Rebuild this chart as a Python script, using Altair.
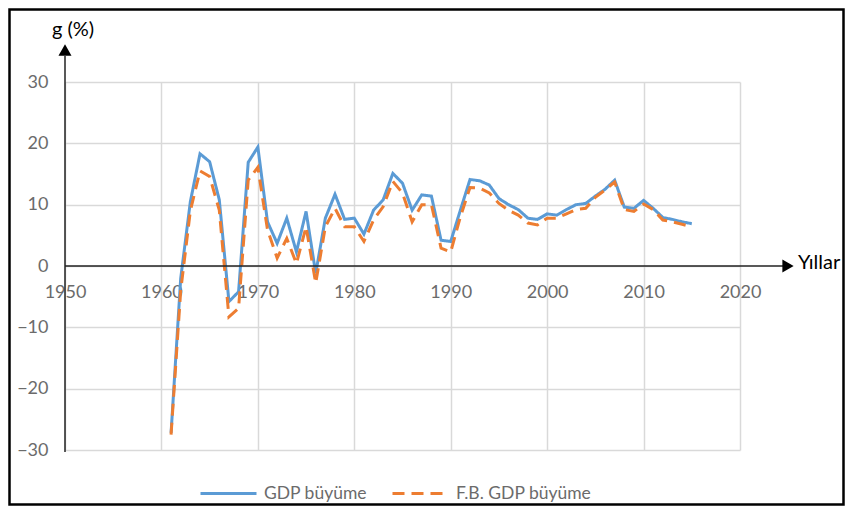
import altair as alt
import pandas as pd

years = list(range(1961, 2016))
gdp = [-27.2, -2.0, 10.5, 18.3, 17.0, 10.8, -5.8, -4.2, 16.9, 19.4,
       7.2, 3.7, 7.8, 2.3, 8.9, -1.2, 7.8, 11.7, 7.6, 7.8,
       5.2, 9.1, 10.8, 15.1, 13.5, 9.1, 11.6, 11.4, 4.2, 4.0,
       9.1, 14.1, 13.9, 13.2, 11.0, 10.0, 9.2, 7.8, 7.6, 8.5,
       8.3, 9.2, 10.0, 10.2, 11.4, 12.5, 14.0, 9.6, 9.4, 10.7,
       9.4, 7.9, 7.6, 7.2, 6.9]
fb_gdp = [-27.5, -4.0, 9.0, 15.5, 14.6, 9.1, -8.3, -6.9, 14.0, 16.1,
          5.9, 1.3, 4.5, 0.4, 6.4, -2.8, 6.4, 9.4, 6.4, 6.4,
          4.0, 7.5, 9.7, 13.8, 11.9, 7.2, 10.0, 10.0, 2.9, 2.3,
          8.0, 12.8, 12.7, 11.9, 10.2, 9.1, 8.3, 7.0, 6.7, 7.8,
          7.8, 8.5, 9.2, 9.4, 11.2, 12.4, 13.7, 9.2, 8.9, 10.1,
          9.2, 7.5, 7.2, 6.8, 6.4]
series_names = ["GDP büyüme", "F.B. GDP büyüme"]
x_ticks = [1950, 1960, 1970, 1980, 1990, 2000, 2010, 2020]
y_ticks = [-30, -20, -10, 0, 10, 20, 30]

df = pd.DataFrame({
    "Yil": years + years,
    "g": gdp + fb_gdp,
    "Seri": [series_names[0]] * len(years) + [series_names[1]] * len(years),
})
one = pd.DataFrame({"a": [0]})

W, H = 675, 368
FONT = "Lato"
LBL = "#6b6b6b"

xscale = alt.Scale(domain=[1950, 2020], nice=False, zero=False)
yscale = alt.Scale(domain=[-30, 30], nice=False)
cscale = alt.Scale(domain=series_names, range=["#5B9BD5", "#ED7D31"])
dscale = alt.Scale(domain=series_names, range=[[1, 0], [12, 7]])

x_enc = alt.X("Yil:Q", scale=xscale, title=None,
              axis=alt.Axis(values=x_ticks, format="d", grid=True, gridColor="#d9d9d9",
                            gridWidth=1.5, domain=False, ticks=False, labelPadding=17,
                            offset=-184, labelFont=FONT, labelFontSize=18, labelColor=LBL,
                            labelFlush=False, labelOverlap=False))
y_enc = alt.Y("g:Q", scale=yscale, title=None,
              axis=alt.Axis(values=y_ticks, grid=True, gridColor="#d9d9d9", gridWidth=1.5,
                            domain=False, ticks=False, labelPadding=17, labelFont=FONT,
                            labelFontSize=18, labelColor=LBL))
legend = alt.Legend(title=None, orient="none", legendX=134, legendY=382, direction="horizontal",
                    symbolType="stroke", symbolSize=3136, symbolStrokeWidth=3,
                    labelFont=FONT, labelFontSize=17.5, labelColor=LBL, labelOffset=6,
                    columnPadding=18, padding=0)

def line_layer(name):
    return alt.Chart(df).transform_filter(alt.datum.Seri == name).mark_line(strokeWidth=3).encode(
        x=x_enc, y=y_enc,
        color=alt.Color("Seri:N", scale=cscale, legend=legend),
        strokeDash=alt.StrokeDash("Seri:N", scale=dscale, legend=legend),
    )

blue = line_layer(series_names[0])
orange = line_layer(series_names[1])

xaxis_line = alt.Chart(one).mark_rule(color="#222222", strokeWidth=1.5).encode(
    x=alt.value(0), x2=alt.value(718), y=alt.datum(0))
xarrow = alt.Chart(one).mark_point(shape="triangle-right", filled=True, color="black",
                                   size=170, opacity=1).encode(x=alt.value(723), y=alt.datum(0))
yaxis_line = alt.Chart(one).mark_rule(color="#222222", strokeWidth=1.5).encode(
    x=alt.value(0), y=alt.value(H + 2), y2=alt.value(-26))
yarrow = alt.Chart(one).mark_point(shape="triangle-up", filled=True, color="black",
                                   size=170, opacity=1).encode(x=alt.value(0), y=alt.value(-32))
xtitle = alt.Chart(one).mark_text(text="Yıllar", font=FONT, fontSize=20, color="black",
                                  align="left", baseline="middle").encode(
    x=alt.value(733), y=alt.value(-3 + 184))
ytitle = alt.Chart(one).mark_text(text="g (%)", font=FONT, fontSize=20, color="black",
                                  align="center", baseline="middle").encode(
    x=alt.value(8), y=alt.value(-52))
border = alt.Chart(one).mark_rect(filled=False, stroke="black", strokeWidth=2.5).encode(
    x=alt.value(-55.5), x2=alt.value(W + 103.5), y=alt.value(-72.5), y2=alt.value(H + 54.5))

chart = alt.layer(
    blue, orange, xaxis_line, xarrow, yaxis_line, yarrow, xtitle, ytitle, border
).properties(
    width=W, height=H,
    padding={"left": 57, "top": 74, "right": 105, "bottom": 56},
    autosize=alt.AutoSizeParams(type="none"),
    background="white",
).configure_view(strokeWidth=0)

chart.save("out.html", embed_options={"renderer": "svg", "actions": False})
